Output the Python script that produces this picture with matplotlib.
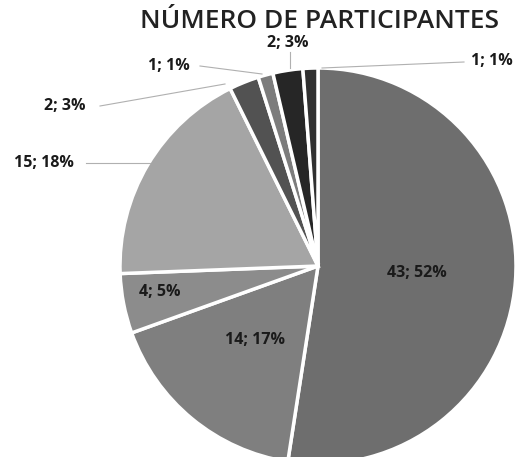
import matplotlib
matplotlib.use("Agg")
import matplotlib.pyplot as plt
import numpy as np

title = "NÚMERO DE PARTICIPANTES"
values = [43, 14, 4, 15, 2, 1, 2, 1]
percents = [52, 17, 5, 18, 3, 1, 3, 1]
colors = ["#6e6e6e", "#7f7f7f", "#8c8c8c", "#a5a5a5", "#525252", "#7c7c7c", "#262626", "#303030"]

W, H = 515, 457
fig = plt.figure(figsize=(W / 100, H / 100), dpi=100)
ax = fig.add_axes([0, 0, 1, 1])
cx, cy, R = 318, 457 - 266, 198
wedges, _ = ax.pie(values, colors=colors, startangle=90, counterclock=False,
                   center=(cx, cy), radius=R, frame=True,
                   wedgeprops=dict(edgecolor="white", linewidth=2.5))
ax.set_xlim(0, W)
ax.set_ylim(0, H)
ax.set_aspect("equal")
ax.axis("off")

labels = [f"{v}; {p}%" for v, p in zip(values, percents)]
fp = dict(fontfamily="Open Sans", fontweight="bold", fontsize=11.5, color="#1a1a1a")

# inside labels (positions in pixel coords, y from top)
inside = {0: (417, 273), 1: (255, 340), 2: (160, 292)}
for i, (x, y) in inside.items():
    ax.text(x, H - y, labels[i], ha="center", va="center", **fp)

# outside labels with leader lines: (text x, text y, ha, line points)
outside = {
    3: ((14, 163), "left", [(86, 163), (150, 163)]),
    4: ((44, 106), "left", [(100, 106), (225, 84)]),
    5: ((148, 66), "left", [(200, 66), (262, 74)]),
    6: ((288, 43), "center", [(290, 52), (290, 68)]),
    7: ((513, 61), "right", [(464, 62), (322, 68)]),
}
for i, ((x, y), ha, pts) in outside.items():
    ax.text(x, H - y, labels[i], ha=ha, va="center", **fp)
    xs = [p[0] for p in pts]
    ys = [H - p[1] for p in pts]
    ax.plot(xs, ys, color="#b0b0b0", lw=0.8)

ax.text(320, H - 21, title, ha="center", va="center", fontfamily="Open Sans",
        fontweight="semibold", fontsize=19, color="#222222")

fig.savefig("out.png", dpi=100)
